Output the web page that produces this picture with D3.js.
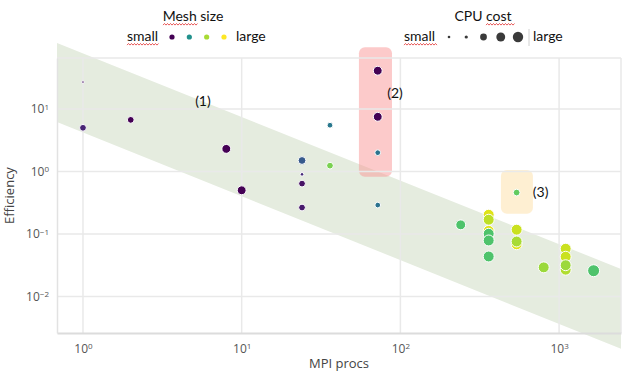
<!DOCTYPE html>
<html>
<head>
<meta charset="utf-8">
<script src="https://cdn.jsdelivr.net/npm/d3@7"></script>
<style>
  body { margin: 0; background: #fff; }
  svg { display: block; }
</style>
</head>
<body>
<svg id="fig" width="639" height="389"></svg>
<script>
// MPI procs, efficiency, mesh size (0 small .. 1 large), CPU cost (1 small .. 5.5 large)
const procs = [1, 1, 2, 8, 10, 24, 24, 24, 24, 36, 36, 72, 72, 72, 72,
    240, 360, 360, 360, 360, 360, 360, 540, 540, 540, 540, 800, 1100, 1100, 1100, 1100, 1650];
const efficiency = [27, 5.0, 6.7, 2.3, 0.5, 1.5, 0.9, 0.64, 0.265, 5.5, 1.24, 41, 7.5, 2.0, 0.29,
    0.14, 0.203, 0.169, 0.112, 0.1007, 0.0787, 0.0436, 0.46, 0.117, 0.0684, 0.0758, 0.0292, 0.058, 0.0432, 0.0268, 0.0316, 0.0258];
const meshSize = [0.05, 0.1, 0.0, 0.0, 0.0, 0.28, 0.12, 0.05, 0.07, 0.4, 0.8, 0.0, 0.0, 0.38, 0.38,
    0.72, 0.95, 0.9, 0.95, 0.72, 0.72, 0.72, 0.76, 0.92, 0.95, 0.87, 0.85, 0.92, 0.92, 0.88, 0.85, 0.72];
const cpuCost = [1, 3, 3, 4, 4, 3.5, 1.5, 3, 3, 2.5, 3, 4, 4, 2.5, 2.5,
    4.5, 5, 5, 5, 5, 5, 5, 3, 5, 5, 5, 5, 5, 5, 5, 5, 5.5];

// shaded trend band (procs -> upper / lower efficiency)
const bandProcs = [0.686, 2455];
const bandUpper = [113.7, 0.0275];
const bandLower = [6.2, 0.00145];

// highlighted groups: [procsMin, procsMax, effMin, effMax]
const boxPink = [54.8, 88.5, 0.82, 97.7];
const boxYellow = [430, 684, 0.21, 1.06];

const notes = [
    {label: "(1)", p: 5.7, e: 13.4},
    {label: "(2)", p: 92.5, e: 17.8},
    {label: "(3)", p: 765, e: 0.47}
];

const xTicks = [1, 10, 100, 1000];
const yTicks = [10, 1, 0.1, 0.01];
const meshLegend = [0, 0.5, 0.87, 1];
const costLegend = [1, 1.3, 3, 4, 4.7];

const svg = d3.select("#fig");
const plotLeft = 57, plotRight = 621, plotTop = 58, plotBottom = 333;

const x = d3.scaleLog().domain([0.686, 2455]).range([plotLeft, plotRight]);
const y = d3.scaleLog().domain([65.5, 0.0026]).range([plotTop, plotBottom]);
const r = d3.scaleLinear().domain([1, 5.5]).range([1.3, 6]);
const color = t => d3.interpolateViridis(t);

const textFont = "Lato, 'Open Sans', sans-serif";

// band
let bandPts = bandProcs.map((p, i) => [x(p), y(bandUpper[i])])
    .concat(bandProcs.map((p, i) => [x(p), y(bandLower[i])]).reverse());
svg.append("path")
    .attr("d", d3.line()(bandPts) + "Z")
    .attr("fill", "#e5ecdf");

// highlight boxes
function addBox(b, fill) {
    svg.append("rect")
        .attr("x", x(b[0]))
        .attr("y", y(b[3]))
        .attr("width", x(b[1]) - x(b[0]))
        .attr("height", y(b[2]) - y(b[3]))
        .attr("rx", 6)
        .attr("fill", fill);
}
addBox(boxPink, "rgba(250,150,150,0.5)");
addBox(boxYellow, "rgba(253,224,165,0.5)");

// grid + frame
let grid = svg.append("g").attr("stroke", "#e9e9e9").attr("stroke-width", 1.5);
xTicks.forEach(t => grid.append("line").attr("x1", x(t)).attr("x2", x(t)).attr("y1", plotTop).attr("y2", plotBottom));
yTicks.forEach(t => grid.append("line").attr("x1", plotLeft).attr("x2", plotRight).attr("y1", y(t)).attr("y2", y(t)));
grid.append("line").attr("x1", plotLeft).attr("x2", plotRight).attr("y1", plotTop).attr("y2", plotTop);
grid.append("line").attr("x1", plotRight).attr("x2", plotRight).attr("y1", plotTop).attr("y2", plotBottom);

// axes
function supLabel(sel) {
    sel.each(function(d) {
        let exp = Math.round(Math.log10(d));
        d3.select(this).text(null)
            .call(t => t.append("tspan").text("10"))
            .call(t => t.append("tspan").attr("dy", "-0.45em").attr("font-size", "8px")
                .text(exp < 0 ? "\u2212" + (-exp) : exp));
    });
}

let xAxis = svg.append("g")
    .attr("transform", `translate(0,${plotBottom})`)
    .call(d3.axisBottom(x).tickValues(xTicks).tickSize(0).tickPadding(11));
xAxis.select(".domain").attr("stroke", "#dcdcdc").attr("stroke-width", 2);
xAxis.selectAll("text").attr("fill", "#555").attr("font-size", 12)
    .attr("font-family", "'Open Sans', sans-serif").call(supLabel);

let yAxis = svg.append("g")
    .attr("transform", `translate(${plotLeft},0)`)
    .call(d3.axisLeft(y).tickValues(yTicks).tickSize(0).tickPadding(8));
yAxis.select(".domain").attr("stroke", "#e2e2e2").attr("stroke-width", 1.5);
yAxis.selectAll("text").attr("fill", "#555").attr("font-size", 12)
    .attr("font-family", "'Open Sans', sans-serif").call(supLabel);

svg.append("text")
    .attr("x", (plotLeft + plotRight) / 2)
    .attr("y", 368)
    .attr("text-anchor", "middle")
    .attr("fill", "#444")
    .attr("font-size", 13)
    .attr("font-family", "'Open Sans', sans-serif")
    .text("MPI procs");

svg.append("text")
    .attr("transform", `translate(14,${(plotTop + plotBottom) / 2}) rotate(-90)`)
    .attr("text-anchor", "middle")
    .attr("fill", "#444")
    .attr("font-size", 13)
    .attr("font-family", "'Open Sans', sans-serif")
    .text("Efficiency");

// points
svg.append("g")
    .selectAll("circle")
    .data(procs.map((p, i) => ({p, e: efficiency[i], m: meshSize[i], c: cpuCost[i]})))
    .join("circle")
    .attr("cx", d => x(d.p))
    .attr("cy", d => y(d.e))
    .attr("r", d => r(d.c))
    .attr("fill", d => color(d.m))
    .attr("stroke", "#fff")
    .attr("stroke-width", 1);

// annotations
svg.append("g")
    .selectAll("text")
    .data(notes)
    .join("text")
    .attr("x", d => x(d.p))
    .attr("y", d => y(d.e) + 5)
    .attr("text-anchor", "middle")
    .attr("font-size", 14)
    .attr("font-family", textFont)
    .attr("fill", "#111")
    .text(d => d.label);

// legends
function squiggle(x0, x1, yy) {
    let pts = [];
    for (let i = 0, xx = x0; xx <= x1; xx += 1.5, i++) pts.push([xx, yy + (i % 2 ? -1 : 0.6)]);
    svg.append("path").attr("d", d3.line()(pts)).attr("fill", "none")
        .attr("stroke", "#e03030").attr("stroke-width", 0.8);
}

function legendText(tx, ty, str, anchor) {
    return svg.append("text")
        .attr("x", tx).attr("y", ty)
        .attr("text-anchor", anchor || "start")
        .attr("font-size", 14)
        .attr("font-family", textFont)
        .attr("fill", "#111")
        .text(str);
}

legendText(193, 21, "Mesh size", "middle");
legendText(127, 41, "small");
legendText(236, 41, "large");
squiggle(163, 198, 24.5);
squiggle(127, 159, 44.5);

let meshX = d3.scalePoint().domain(meshLegend).range([172, 224]);
svg.append("g").selectAll("circle")
    .data(meshLegend).join("circle")
    .attr("cx", d => meshX(d)).attr("cy", 37)
    .attr("r", 2.6)
    .attr("fill", d => color(d));

legendText(483, 21, "CPU cost", "middle");
legendText(404, 41, "small");
legendText(533, 41, "large");
squiggle(486, 515, 24.5);
squiggle(404, 437, 44.5);

let costX = d3.scalePoint().domain(costLegend).range([449, 518]);
svg.append("g").selectAll("circle")
    .data(costLegend).join("circle")
    .attr("cx", d => costX(d)).attr("cy", 37)
    .attr("r", d => r(d))
    .attr("fill", "#3a3a3a");
svg.append("line")
    .attr("x1", 529).attr("x2", 529).attr("y1", 29).attr("y2", 46)
    .attr("stroke", "#d0d0d0").attr("stroke-width", 1);
</script>
</body>
</html>
